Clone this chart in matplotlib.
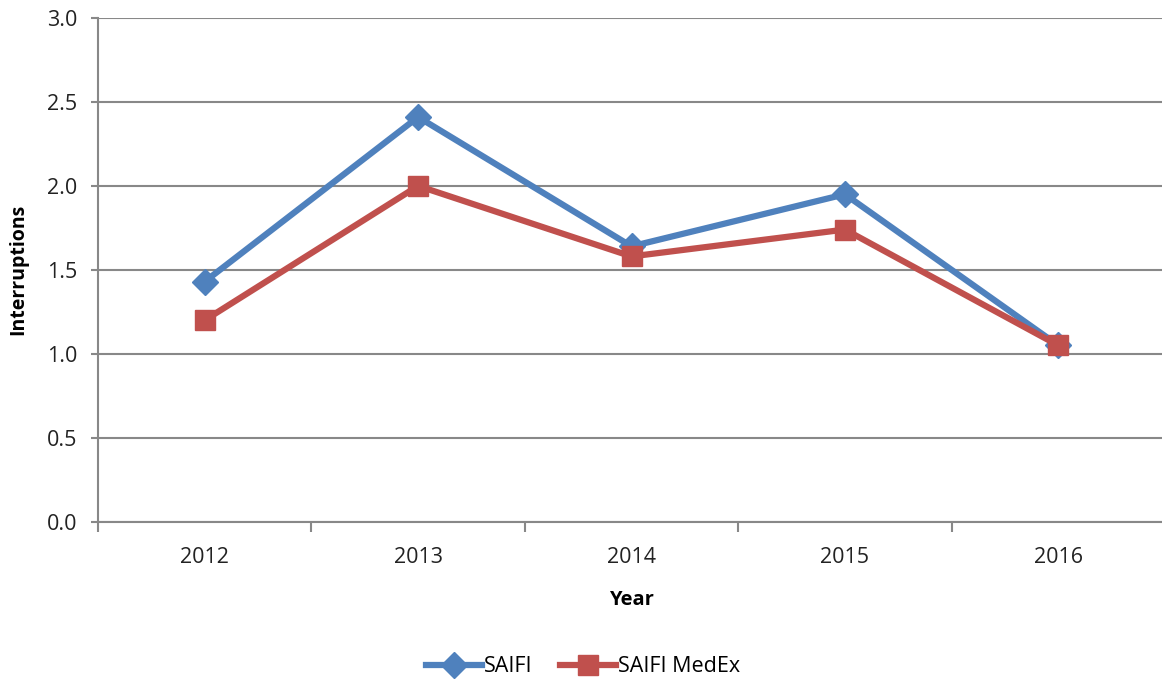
import matplotlib
matplotlib.use("Agg")
import matplotlib.pyplot as plt
import numpy as np

years = ["2012", "2013", "2014", "2015", "2016"]
saifi = [1.43, 2.41, 1.64, 1.95, 1.05]
saifi_medex = [1.20, 2.00, 1.58, 1.74, 1.05]
yticks = [0.0, 0.5, 1.0, 1.5, 2.0, 2.5, 3.0]

plt.rcParams['font.family'] = ['Open Sans', 'DejaVu Sans']

W, H = 1162, 683
fig = plt.figure(figsize=(W / 100, H / 100), dpi=100)
left, right, bottom, top = 98, 1165, 521.7, 18
ax = fig.add_axes([left / W, 1 - bottom / H, (right - left) / W, (bottom - top) / H])

grid_c = "#888888"
x = np.arange(len(years))
ax.plot(x, saifi, color="#4F81BD", lw=4.5, marker="D", ms=13, label="SAIFI", zorder=3)
ax.plot(x, saifi_medex, color="#C0504D", lw=4.5, marker="s", ms=15, label="SAIFI MedEx", zorder=4)

ax.set_xlim(-0.5, len(years) - 0.5)
ax.set_ylim(0, 3.0)
ax.set_yticks(yticks)
ax.set_yticklabels([f"{v:.1f}" for v in yticks], fontsize=15.5, color="#222222")
ax.yaxis.grid(True, color=grid_c, lw=1.5)
ax.set_axisbelow(True)

ax.set_xticks(x)
ax.set_xticklabels(years, fontsize=15.5, color="#222222")
ax.set_xticks(np.arange(-0.5, len(years), 1.0), minor=True)
ax.tick_params(axis="x", which="major", length=0, pad=18)
ax.tick_params(axis="x", which="minor", length=7, width=1.5, color=grid_c, direction="out")
ax.tick_params(axis="y", length=5, width=1.5, color=grid_c, pad=10)

for s in ["top", "right"]:
    ax.spines[s].set_visible(False)
for s in ["left", "bottom"]:
    ax.spines[s].set_color(grid_c)
    ax.spines[s].set_linewidth(1.5)

ax.set_ylabel("Interruptions", fontsize=14, fontweight="bold", labelpad=13)
ax.set_xlabel("Year", fontsize=14.5, fontweight="bold", labelpad=16)

fig.legend(loc="center", bbox_to_anchor=(583 / W, 1 - 667 / H), ncol=2, frameon=False,
           fontsize=15.5, handlelength=2.6, columnspacing=1.3, handletextpad=0.1)

fig.savefig("out.png", dpi=100, facecolor="white")
